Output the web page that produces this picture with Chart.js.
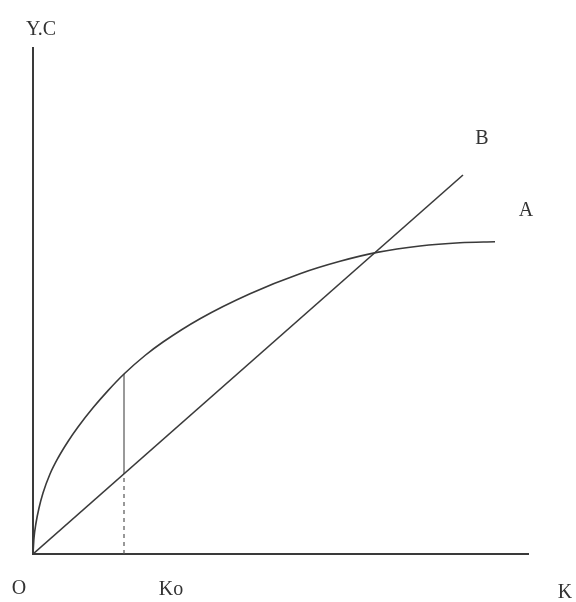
<!DOCTYPE html>
<html><head><meta charset="utf-8">
<script src="https://cdn.jsdelivr.net/npm/chart.js@4/dist/chart.umd.min.js"></script>
<style>html,body{margin:0;padding:0;background:#fff}#wrap{width:576px;height:602px}</style>
</head><body><div id="wrap"><canvas id="c" width="576" height="602"></canvas></div>
<script>
// Curve A (output Y as function of K)
const curveAK = [0, 1, 3, 6, 10, 17, 25, 35, 45, 60, 75, 91, 112, 130, 167, 217, 267, 307, 344, 387, 427, 462];
const curveAY = [0, 16, 31, 46, 61, 80, 96, 112.5, 127, 146.2, 163.4, 180, 198.5, 212, 235.3, 260.3, 280.3, 292.7, 301.6, 308, 311.2, 312.2];
// Line B
const lineBK = [0, 430];
const lineBY = [0, 379];
// Ko marker
const koK = 91;
const koYOnB = 80;
const koYOnA = 180;
const xMax = 495, yMax = 506;

const toPts = (xs, ys) => xs.map((x, i) => ({x, y: ys[i]}));
const ink = '#3a3a3a';

const labels = {
  id: 'labels',
  afterDraw(chart) {
    const ctx = chart.ctx;
    ctx.save();
    ctx.fillStyle = '#333';
    ctx.font = '20px "Liberation Serif", "DejaVu Serif", serif';
    ctx.textAlign = 'center';
    ctx.textBaseline = 'middle';
    ctx.fillText('Y.C', 41, 30);
    ctx.fillText('O', 19, 589);
    ctx.fillText('Ko', 171, 590);
    ctx.fillText('K', 565, 593);
    ctx.fillText('B', 482, 139);
    ctx.fillText('A', 526, 211);
    ctx.restore();
  }
};

new Chart(document.getElementById('c'), {
  type: 'scatter',
  data: {
    datasets: [
      {data: toPts(curveAK, curveAY), showLine: true, borderColor: ink, borderWidth: 1.6, pointRadius: 0, cubicInterpolationMode: 'monotone', fill: false},
      {data: toPts(lineBK, lineBY), showLine: true, borderColor: ink, borderWidth: 1.6, pointRadius: 0},
      {data: [{x: koK, y: koYOnB}, {x: koK, y: koYOnA}], showLine: true, borderColor: '#555', borderWidth: 1.2, pointRadius: 0},
      {data: [{x: koK, y: 0}, {x: koK, y: koYOnB}], showLine: true, borderColor: '#555', borderWidth: 1.2, borderDash: [4, 4], pointRadius: 0}
    ]
  },
  options: {
    responsive: false,
    animation: false,
    events: [],
    layout: {padding: {left: 33, right: 48, top: 48, bottom: 48}},
    plugins: {legend: {display: false}, tooltip: {enabled: false}},
    scales: {
      x: {type: 'linear', min: 0, max: xMax, grid: {display: false, drawTicks: false}, ticks: {display: false}, border: {display: true, color: ink, width: 2}},
      y: {type: 'linear', min: 0, max: yMax, grid: {display: false, drawTicks: false}, ticks: {display: false}, border: {display: true, color: ink, width: 2}}
    }
  },
  plugins: [labels]
});
</script></body></html>
